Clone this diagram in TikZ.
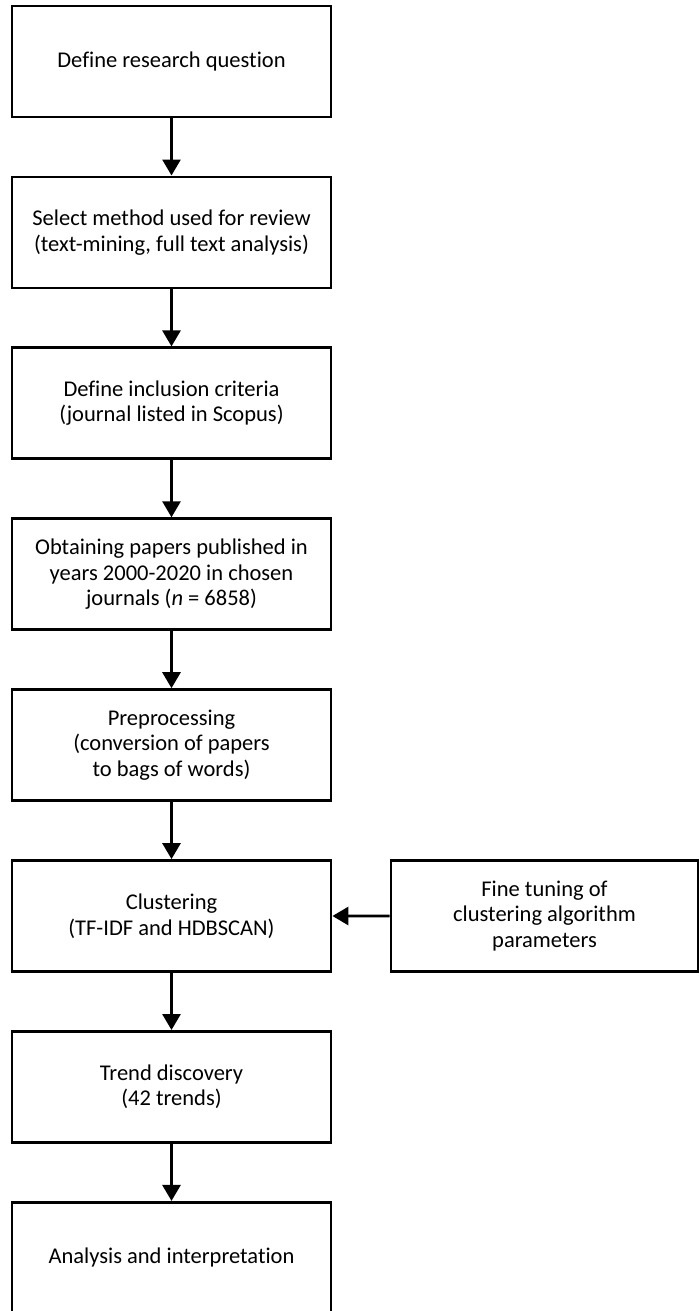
\documentclass[tikz,border=0pt]{standalone}
\usepackage{fontspec}
\setmainfont{Carlito}[Ligatures=NoCommon]
\usetikzlibrary{arrows.meta}

\tikzset{
    stepbox/.style={draw, line width=2.8pt, minimum width=319pt, minimum height=111pt,
        inner sep=0pt, align=center, font=\fontsize{22.5}{25.5}\selectfont},
    flow/.style={line width=2.8pt, -{Triangle[width=18pt,length=16pt]}}
}

\begin{document}
\begin{tikzpicture}[x=1pt,y=-1pt]
    \useasboundingbox (0,0) rectangle (700,1311);
    \foreach \t [count=\i from 0] in {
        {Define research question},
        {Select method used for review\\(text-mining, full text analysis)},
        {Define inclusion criteria\\(journal listed in Scopus)},
        {Obtaining papers published in\\years 2000-2020 in chosen\\journals (\textit{n} = 6858)},
        {Preprocessing\\(conversion of papers\\to bags of words)},
        {Clustering\\(TF-IDF and HDBSCAN)},
        {Trend discovery\\(42 trends)},
        {Analysis and interpretation}} {
        \node [stepbox] (s\i) at (171.5,61.5+170.9*\i) {\t};
    }
    \foreach \i in {0,...,6} {
        \pgfmathtruncatemacro\j{\i+1}
        \draw [flow] (s\i) -- (s\j);
    }
    \node [stepbox, minimum width=307pt] (tune) at (544.5,916) {Fine tuning of\\clustering algorithm\\parameters};
    \draw [flow] (tune) -- (s5);
\end{tikzpicture}
\end{document}
